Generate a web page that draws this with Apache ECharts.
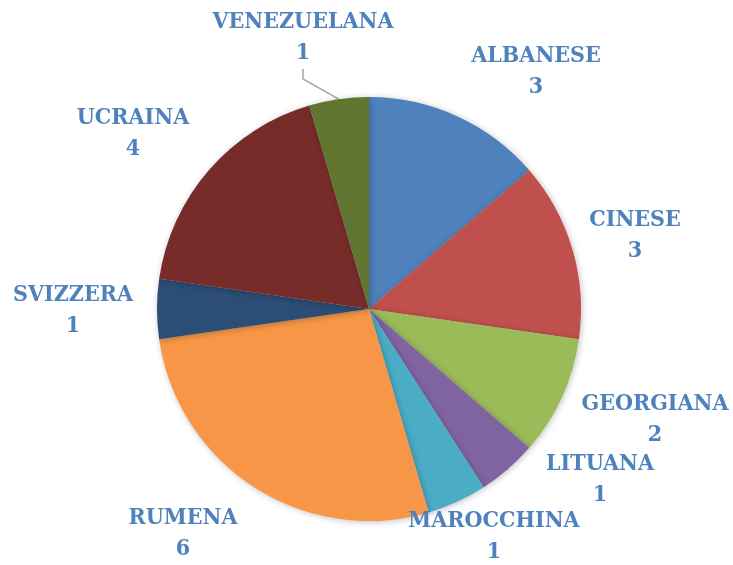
<!DOCTYPE html>
<html>
<head>
<meta charset="utf-8">
<script src="https://cdn.jsdelivr.net/npm/echarts@6/dist/echarts.min.js"></script>
<style>
html,body{margin:0;padding:0;background:#fff;}
#c{width:733px;height:565px;}
</style>
</head>
<body>
<div id="c"></div>
<script>
const categories = ['ALBANESE','CINESE','GEORGIANA','LITUANA','MAROCCHINA','RUMENA','SVIZZERA','UCRAINA','VENEZUELANA'];
const values = [3,3,2,1,1,6,1,4,1];
const colors = ['#4F81BD','#C0504D','#9BBB59','#8064A2','#4BACC6','#F79646','#2C4D75','#772C2A','#5F7530'];
// label block centres (layout only)
const labelPos = [[536,72],[635,236],[655,420],[600,480],[494,537],[183,534],[73,311],[133,134],[303,38]];
const showLine = [false,false,false,true,false,false,false,false,true];

const chart = echarts.init(document.getElementById('c'));
chart.setOption({
  animation:false,
  color: colors,
  series:[{
    type:'pie',
    center:[369,309],
    radius:[0,212],
    startAngle:90,
    clockwise:true,
    data: categories.map((n,i)=>({name:n,value:values[i],labelLine:{show:showLine[i]}})),
    itemStyle:{shadowBlur:6,shadowColor:'rgba(0,0,0,0.25)',shadowOffsetX:1,shadowOffsetY:1},
    label:{
      show:true,
      position:'outside',
      formatter:'{b}\n{c}',
      color:'#4F81BD',
      fontFamily:'"DejaVu Serif Condensed","Liberation Serif",serif',
      fontWeight:'bold',
      fontSize:23,
      lineHeight:31,
      align:'center',
      overflow:'none',
      width:300
    },
    labelLine:{show:true,length:10,length2:10,lineStyle:{color:'#A6A6A6',width:1.5}},
    labelLayout:function(p){
      const pos = labelPos[p.dataIndex];
      return {x:pos[0],y:pos[1],align:'center',verticalAlign:'middle'};
    }
  }]
});
</script>
</body>
</html>
